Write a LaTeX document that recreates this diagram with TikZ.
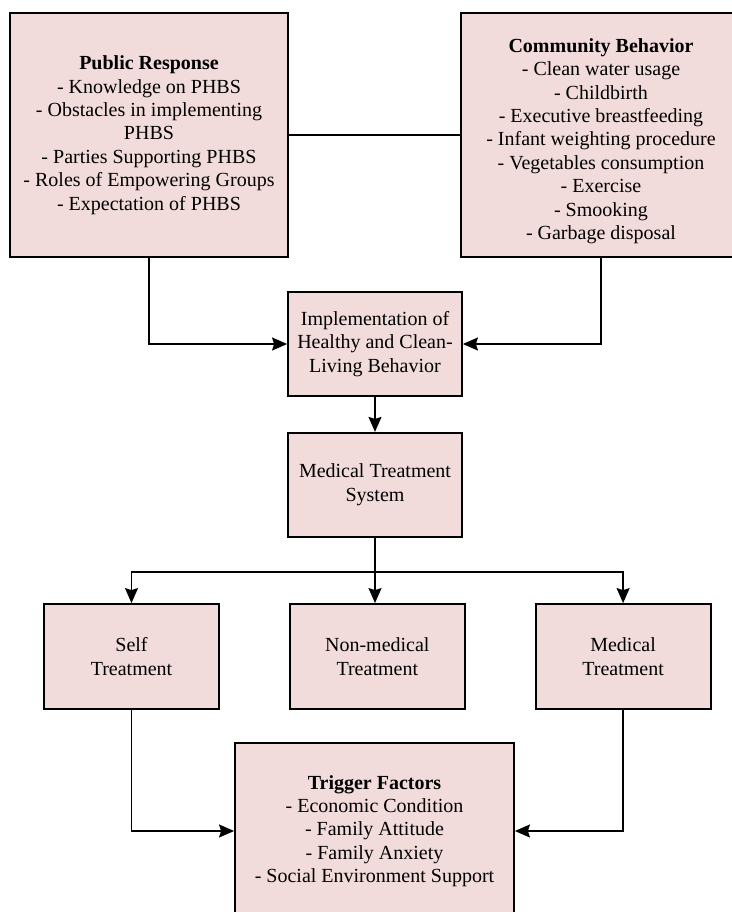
\documentclass[tikz,border=0pt]{standalone}
\usepackage{fontspec}
\setmainfont{Liberation Serif}
\usetikzlibrary{arrows.meta,positioning}
\definecolor{boxpink}{HTML}{F2DCDB}

\begin{document}
\begin{tikzpicture}[
  x=0.5pt, y=-0.5pt,
  font=\fontsize{10}{11.7}\selectfont,
  node distance=17.5pt and 34.5pt,
  box/.style={draw, line width=0.9pt, fill=boxpink, align=center, inner sep=2pt},
  bigbox/.style={box, minimum width=139pt, minimum height=122pt},
  midbox/.style={box, minimum width=87pt, minimum height=52pt},
  link/.style={line width=0.8pt},
  flow/.style={-{Stealth[length=7.5pt, width=6.5pt, inset=1pt]}, line width=0.8pt}
]

\useasboundingbox (0,0) rectangle (732,912);

\node[bigbox] (pr) at (149,135) {\textbf{Public Response}\\- Knowledge on PHBS\\- Obstacles in implementing\\PHBS\\- Parties Supporting PHBS\\- Roles of Empowering Groups\\- Expectation of PHBS};
\node[bigbox, minimum width=140pt] (cb) at (601,135) {\rule{0pt}{13pt}\textbf{Community Behavior}\\- Clean water usage\\- Childbirth\\- Executive breastfeeding\\- Infant weighting procedure\\- Vegetables consumption\\- Exercise\\- Smooking\\- Garbage disposal};
\node[midbox] (impl) at (375,344) {Implementation of\\Healthy and Clean-\\Living Behavior};
\node[midbox, below=of impl] (mts) {Medical Treatment\\System};
\node[midbox, minimum width=87.5pt, minimum height=52.5pt] (self) at (131.5,656.5) {Self\\Treatment};
\node[midbox, minimum width=87.5pt, minimum height=52.5pt, right=of self] (nonmed) {Non-medical\\Treatment};
\node[midbox, minimum width=87.5pt, minimum height=52.5pt, right=of nonmed] (med) {Medical\\Treatment};
\node[box, minimum width=139.5pt, minimum height=88pt] (trig) at (374.5,831) {\textbf{Trigger Factors}\\- Economic Condition\\- Family Attitude\\- Family Anxiety\\- Social Environment Support};

\coordinate[below=17pt of mts.south] (fork);

\draw[link] (pr) -- (cb);
\draw[flow] (pr.south) |- (impl.west);
\draw[flow] (cb.south) |- (impl.east);
\draw[flow] (impl) -- (mts);
\draw[flow] (mts.south) -- (fork) -| (self.north);
\draw[flow] (fork) -| (med.north);
\draw[flow] (fork) -- (fork |- nonmed.north);
\draw[flow] (self.south) |- (trig.west);
\draw[flow] (med.south) |- (trig.east);

\end{tikzpicture}
\end{document}
